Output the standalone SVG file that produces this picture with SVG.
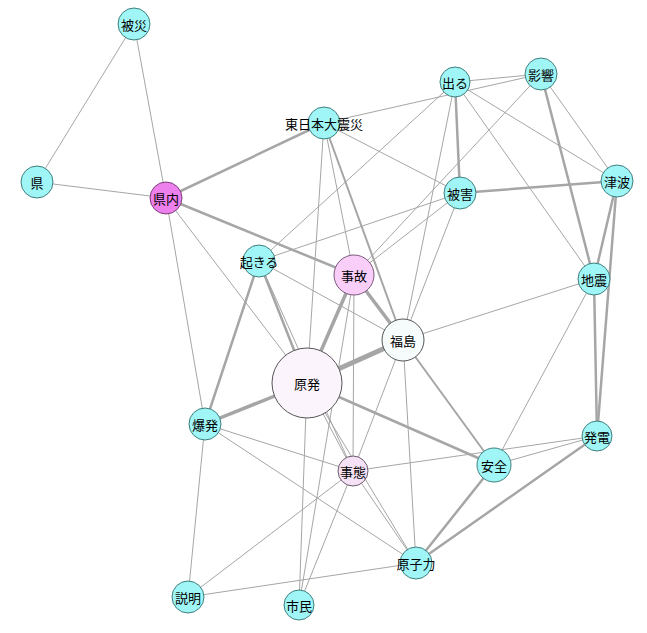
<svg xmlns="http://www.w3.org/2000/svg" width="647" height="633" viewBox="0 0 647 633">
<style>
.e line{stroke:#a6a6a6;stroke-linecap:round}
.w1{stroke-width:1}
.w2{stroke-width:2}
.w3{stroke-width:2.5}
.w4{stroke-width:3.5}
.w5{stroke-width:5}
.c{fill:#a0f6f6;stroke:#3f7f7f;stroke-width:1}
.m{fill:#ee80ee;stroke:#7a3f7a;stroke-width:1}
.p{fill:#f9cef9;stroke:#7a5a7a;stroke-width:1}
.q{fill:#f6e2f6;stroke:#6a5a6a;stroke-width:1}
.r{fill:#fcf4fc;stroke:#555;stroke-width:1}
.f{fill:#f6fcfc;stroke:#555;stroke-width:1}
text{font-family:"Noto Sans CJK JP","Noto Sans CJK SC",sans-serif;font-size:13px;fill:#000;text-anchor:middle;dominant-baseline:central}
</style>
<rect width="647" height="633" fill="#fff"/>
<g id="edges" class="e">
<line class="w1" x1="134" y1="24" x2="37" y2="182"/>
<line class="w1" x1="134" y1="24" x2="166" y2="198"/>
<line class="w1" x1="37" y1="182" x2="166" y2="198"/>
<line class="w3" x1="166" y1="198" x2="324" y2="123"/>
<line class="w3" x1="166" y1="198" x2="354" y2="275"/>
<line class="w1" x1="166" y1="198" x2="307" y2="383"/>
<line class="w1" x1="166" y1="198" x2="205" y2="424"/>
<line class="w1" x1="324" y1="123" x2="541" y2="74"/>
<line class="w1" x1="324" y1="123" x2="460" y2="193"/>
<line class="w1" x1="324" y1="123" x2="307" y2="383"/>
<line class="w1" x1="324" y1="123" x2="354" y2="275"/>
<line class="w2" x1="324" y1="123" x2="403" y2="340"/>
<line class="w1" x1="455" y1="82" x2="541" y2="74"/>
<line class="w3" x1="455" y1="82" x2="460" y2="193"/>
<line class="w1" x1="455" y1="82" x2="403" y2="340"/>
<line class="w1" x1="455" y1="82" x2="259" y2="261"/>
<line class="w1" x1="455" y1="82" x2="617" y2="181"/>
<line class="w1" x1="455" y1="82" x2="594" y2="279"/>
<line class="w1" x1="541" y1="74" x2="354" y2="275"/>
<line class="w3" x1="541" y1="74" x2="594" y2="279"/>
<line class="w1" x1="541" y1="74" x2="617" y2="181"/>
<line class="w3" x1="460" y1="193" x2="617" y2="181"/>
<line class="w1" x1="460" y1="193" x2="403" y2="340"/>
<line class="w1" x1="460" y1="193" x2="259" y2="261"/>
<line class="w1" x1="460" y1="193" x2="354" y2="275"/>
<line class="w3" x1="617" y1="181" x2="594" y2="279"/>
<line class="w3" x1="617" y1="181" x2="597" y2="436"/>
<line class="w3" x1="594" y1="279" x2="597" y2="436"/>
<line class="w1" x1="594" y1="279" x2="403" y2="340"/>
<line class="w1" x1="594" y1="279" x2="494" y2="465"/>
<line class="w3" x1="259" y1="261" x2="205" y2="424"/>
<line class="w3" x1="259" y1="261" x2="307" y2="383"/>
<line class="w1" x1="259" y1="261" x2="403" y2="340"/>
<line class="w1" x1="259" y1="261" x2="353" y2="471"/>
<line class="w4" x1="354" y1="275" x2="307" y2="383"/>
<line class="w4" x1="354" y1="275" x2="403" y2="340"/>
<line class="w1" x1="354" y1="275" x2="353" y2="471"/>
<line class="w1" x1="354" y1="275" x2="299" y2="605"/>
<line class="w5" x1="403" y1="340" x2="307" y2="383"/>
<line class="w2" x1="403" y1="340" x2="494" y2="465"/>
<line class="w1" x1="403" y1="340" x2="353" y2="471"/>
<line class="w1" x1="403" y1="340" x2="416" y2="563"/>
<line class="w4" x1="307" y1="383" x2="205" y2="424"/>
<line class="w3" x1="307" y1="383" x2="494" y2="465"/>
<line class="w1" x1="307" y1="383" x2="299" y2="605"/>
<line class="w1" x1="307" y1="383" x2="353" y2="471"/>
<line class="w1" x1="307" y1="383" x2="416" y2="563"/>
<line class="w1" x1="205" y1="424" x2="353" y2="471"/>
<line class="w1" x1="205" y1="424" x2="416" y2="563"/>
<line class="w1" x1="205" y1="424" x2="188" y2="597"/>
<line class="w1" x1="353" y1="471" x2="597" y2="436"/>
<line class="w1" x1="353" y1="471" x2="416" y2="563"/>
<line class="w1" x1="353" y1="471" x2="299" y2="605"/>
<line class="w1" x1="353" y1="471" x2="188" y2="597"/>
<line class="w1" x1="494" y1="465" x2="597" y2="436"/>
<line class="w3" x1="494" y1="465" x2="416" y2="563"/>
<line class="w3" x1="597" y1="436" x2="416" y2="563"/>
<line class="w1" x1="188" y1="597" x2="416" y2="563"/>
</g>
<g id="hisai"><circle class="c" cx="134" cy="24" r="16"/><text x="134" y="24">被災</text></g>
<g id="ken"><circle class="c" cx="37" cy="182" r="16"/><text x="37" y="182">県</text></g>
<g id="kennai"><circle class="m" cx="166" cy="198" r="16"/><text x="166" y="198">県内</text></g>
<g id="higashinihon"><circle class="c" cx="324" cy="123" r="16"/><text x="324" y="123">東日本大震災</text></g>
<g id="deru"><circle class="c" cx="455" cy="82" r="15"/><text x="455" y="82">出る</text></g>
<g id="eikyo"><circle class="c" cx="541" cy="74" r="16"/><text x="541" y="74">影響</text></g>
<g id="higai"><circle class="c" cx="460" cy="193" r="16"/><text x="460" y="193">被害</text></g>
<g id="tsunami"><circle class="c" cx="617" cy="181" r="16"/><text x="617" y="181">津波</text></g>
<g id="okiru"><circle class="c" cx="259" cy="261" r="16"/><text x="259" y="261">起きる</text></g>
<g id="jiko"><circle class="p" cx="354" cy="275" r="20"/><text x="354" y="275">事故</text></g>
<g id="fukushima"><circle class="f" cx="403" cy="340" r="21"/><text x="403" y="340">福島</text></g>
<g id="genpatsu"><circle class="r" cx="307" cy="383" r="35"/><text x="307" y="383">原発</text></g>
<g id="bakuhatsu"><circle class="c" cx="205" cy="424" r="16"/><text x="205" y="424">爆発</text></g>
<g id="jishin"><circle class="c" cx="594" cy="279" r="16"/><text x="594" y="279">地震</text></g>
<g id="hatsuden"><circle class="c" cx="597" cy="436" r="15"/><text x="597" y="436">発電</text></g>
<g id="anzen"><circle class="c" cx="494" cy="465" r="17"/><text x="494" y="465">安全</text></g>
<g id="jitai"><circle class="q" cx="353" cy="471" r="15"/><text x="353" y="471">事態</text></g>
<g id="genshiryoku"><circle class="c" cx="416" cy="563" r="16"/><text x="416" y="563">原子力</text></g>
<g id="setsumei"><circle class="c" cx="188" cy="597" r="16"/><text x="188" y="597">説明</text></g>
<g id="shimin"><circle class="c" cx="299" cy="605" r="15"/><text x="299" y="605">市民</text></g>
</svg>
